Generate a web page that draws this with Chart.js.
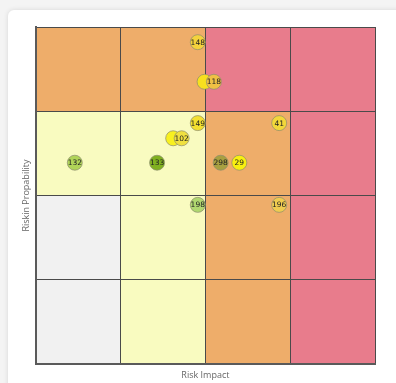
<!DOCTYPE html>
<html>
<head>
<meta charset="utf-8">
<script src="https://cdn.jsdelivr.net/npm/chart.js@4.4.0/dist/chart.umd.min.js"></script>
<style>
  html, body { margin: 0; padding: 0; background: #f4f4f4; overflow: hidden; }
  #card {
    position: absolute; left: 8px; top: 10px; width: 420px; height: 400px;
    background: #fff; border-radius: 6px; box-shadow: 0 0 5px rgba(0,0,0,0.12);
  }
  #riskChart { position: absolute; left: 0; top: 0; }
</style>
</head>
<body>
<div id="card"></div>
<canvas id="riskChart" width="396" height="383"></canvas>
<script>
// Risk points (impact on x, probability on y)
const riskIds = ['148', '', '118', '149', '41', '', '102', '132', '133', '298', '29', '198', '196'];
const impact = [1.91, 1.99, 2.10, 1.91, 2.87, 1.62, 1.72, 0.46, 1.43, 2.18, 2.40, 1.91, 2.87];
const probability = [3.82, 3.35, 3.35, 2.86, 2.86, 2.68, 2.68, 2.39, 2.39, 2.39, 2.39, 1.89, 1.89];
const pointColors = ['#f4d23c', '#f8e01e', '#f0c044', '#f4e030', '#f2d83a', '#f8f020', '#f0e040',
                     '#b0d458', '#80b020', '#a8a040', '#f8f010', '#b0d870', '#f0cc50'];

// Matrix cells, rows from bottom (probability 1) to top (probability 4)
const cellColors = [
    ['#f1f1f1', '#f9fbc0', '#eead6a', '#e87c8c'],
    ['#f1f1f1', '#f9fbc0', '#eead6a', '#e87c8c'],
    ['#f9fbc0', '#f9fbc0', '#eead6a', '#e87c8c'],
    ['#eead6a', '#eead6a', '#e87c8c', '#e87c8c']
];

// cells go under the grid lines
const matrixBackground = {
    id: 'matrixBackground',
    beforeDraw(chart) {
        const ctx = chart.ctx;
        const x = chart.scales.x, y = chart.scales.y;
        cellColors.forEach((row, r) => {
            row.forEach((color, c) => {
                const left = x.getPixelForValue(c), right = x.getPixelForValue(c + 1);
                const top = y.getPixelForValue(r + 1), bottom = y.getPixelForValue(r);
                ctx.fillStyle = color;
                ctx.fillRect(left, top, right - left, bottom - top);
            });
        });
    }
};

const pointLabels = {
    id: 'pointLabels',
    afterDatasetsDraw(chart) {
        const ctx = chart.ctx;
        const meta = chart.getDatasetMeta(0);
        ctx.save();
        ctx.font = '7.5px "DejaVu Sans", sans-serif';
        ctx.fillStyle = '#222';
        ctx.textAlign = 'center';
        ctx.textBaseline = 'middle';
        meta.data.forEach((pt, i) => {
            if (riskIds[i]) ctx.fillText(riskIds[i], pt.x, pt.y + 0.5);
        });
        ctx.restore();
    }
};

const ctx = document.getElementById('riskChart').getContext('2d');
const riskChart = new Chart(ctx, {
    type: 'scatter',
    data: {
        datasets: [{
            data: impact.map((v, i) => ({ x: v, y: probability[i] })),
            backgroundColor: pointColors,
            borderColor: 'rgba(140,140,110,0.7)',
            borderWidth: 1,
            pointRadius: 7.5,
            pointHoverRadius: 7.5
        }]
    },
    options: {
        responsive: false,
        animation: false,
        layout: { padding: { top: 27, right: 21, bottom: 2, left: 17 } },
        scales: {
            x: {
                min: 0, max: 4,
                ticks: { display: false, stepSize: 1 },
                grid: { color: '#4a4a4a', lineWidth: 1, drawTicks: false },
                border: { color: '#5a5a5a', width: 2 },
                title: { display: true, text: 'Risk Impact', color: '#666',
                         font: { size: 9, family: 'Open Sans' }, padding: { top: 6, bottom: 0 } }
            },
            y: {
                min: 0, max: 4,
                ticks: { display: false, stepSize: 1 },
                grid: { color: '#4a4a4a', lineWidth: 1, drawTicks: false },
                border: { color: '#5a5a5a', width: 2 },
                title: { display: true, text: 'Riskin Propability', color: '#666',
                         font: { size: 9, family: 'Open Sans' }, padding: { top: 4, bottom: 4 } }
            }
        },
        plugins: {
            legend: { display: false },
            tooltip: { enabled: false }
        }
    },
    plugins: [matrixBackground, pointLabels]
});
</script>
</body>
</html>
